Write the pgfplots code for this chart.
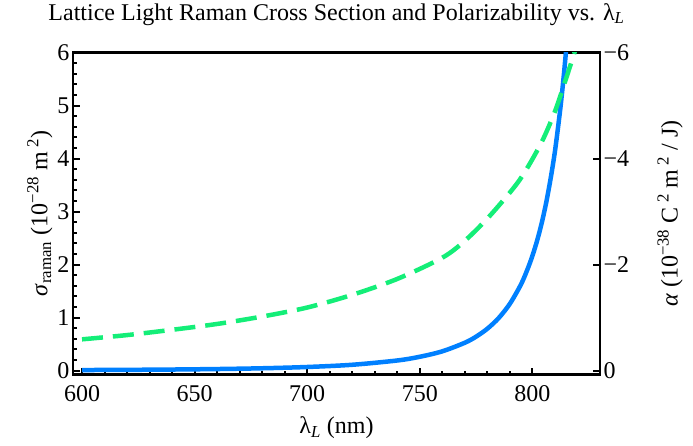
\documentclass[border=0pt]{standalone}
\usepackage{pgfplots}
\pgfplotsset{compat=1.18}
\usepackage{fontspec}
\setmainfont{Liberation Serif}
\definecolor{mblue}{RGB}{0,128,255}
\definecolor{mgreen}{RGB}{20,238,120}
\newcommand{\fs}{\fontsize{24}{28}\selectfont}
\begin{document}
\begin{tikzpicture}
\begin{axis}[name=main, scale only axis, width=527pt, height=322pt,
 xmin=596, xmax=830, ymin=-0.075, ymax=6,
 axis line style={line width=2.8pt},
 xtick={600,650,...,800}, minor x tick num=4,
 ytick={0,1,...,6}, minor y tick num=4,
 xtick pos=bottom, ytick pos=left,
 tick align=inside,
 major tick length=7pt, minor tick length=4pt,
 every tick/.style={black, line width=2pt},
 /pgf/number format/assume math mode=true,
 tick label style={font=\fs},
 xticklabel style={yshift=-7pt},
 label style={font=\fs},
 title style={font=\fs, at={(axis description cs:0.5,1.10)}, anchor=center},
 title={Lattice Light Raman Cross Section and Polarizability vs. λ\textsubscript{\textit{L}}},
 xlabel={λ\textsubscript{\textit{L}} (nm)},
 xlabel style={at={(axis description cs:0.5,-0.165)}, anchor=center},
 ylabel={\textit{σ}\textsubscript{raman} (10\textsuperscript{−28} m\textsuperscript{ 2})},
 ylabel style={at={(axis description cs:-0.063,0.5)}, anchor=center, rotate=0},
 clip=true,
]
\addplot[mblue, line width=4.5pt, smooth] coordinates {
(600,0.0103)(620,0.0143)(640,0.0202)(660,0.0294)(680,0.0439)(700,0.068)(720,0.110)(740,0.191)(750,0.261)(760,0.364)(770,0.526)(775,0.641)(780,0.791)(785,0.991)(790,1.262)(795,1.633)(798,1.933)(800,2.167)(802,2.441)(804,2.763)(806,3.147)(808,3.605)(810,4.139)(812,4.808)(813,5.185)(814,5.60)(815,6.07)
};
\addplot[mgreen, line width=4.5pt, smooth, dash pattern=on 21pt off 10pt] coordinates {
(600,0.59)(620,0.67)(640,0.77)(660,0.88)(680,1.02)(700,1.19)(720,1.43)(740,1.73)(760,2.13)(770,2.45)(780,2.87)(790,3.36)(795,3.64)(800,3.99)(805,4.39)(810,4.89)(814,5.39)(818,5.91)(819,6.05)
};
\end{axis}
\begin{axis}[scale only axis, width=527pt, height=322pt,
 xmin=596, xmax=830, ymin=-0.075, ymax=6,
 axis x line=none, axis y line*=right,
 axis line style={line width=2.8pt},
 ytick={0,2,4,6}, yticklabels={0,−2,−4,−6},
 tick align=inside, major tick length=7pt,
 every tick/.style={black, line width=2pt},
 tick label style={font=\fs},
 label style={font=\fs},
 ylabel={\textit{α}\ (10\textsuperscript{−38} C\textsuperscript{ 2} m\textsuperscript{ 2} / J)},
 ylabel style={at={(axis description cs:1.133,0.5)}, anchor=center, rotate=0},
]
\end{axis}
\path ([shift={(-73pt,-71pt)}]main.south west) rectangle ([shift={(93pt,50pt)}]main.north east);
\end{tikzpicture}
\end{document}
